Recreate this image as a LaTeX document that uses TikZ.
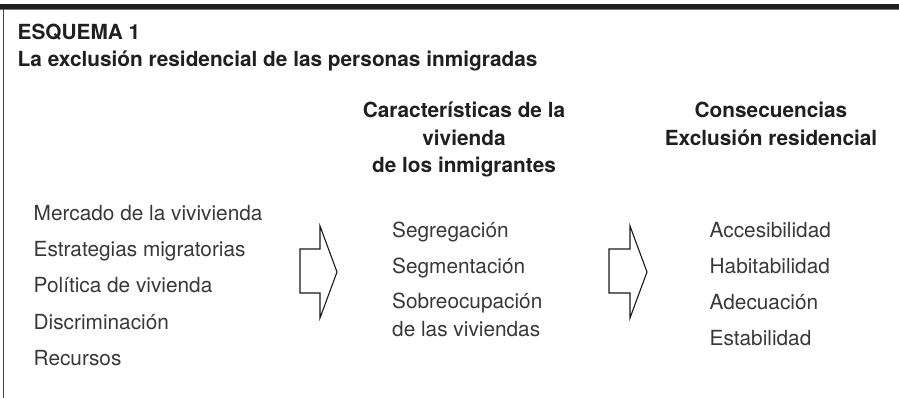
\documentclass[tikz,border=0pt]{standalone}
\usepackage{fontspec}
\setmainfont{TeX Gyre Heros}
\begin{document}
\begin{tikzpicture}[x=1pt,y=-1pt,
  ttl/.style={anchor=base west,inner sep=0pt,font=\fontsize{20.8}{24}\selectfont\bfseries,text=black!88},
  hdr/.style={anchor=base,inner sep=0pt,font=\fontsize{20.8}{24}\selectfont\bfseries,text=black!88},
  item/.style={anchor=base west,inner sep=0pt,font=\fontsize{20.8}{24}\selectfont,text=black!78},
  bigarrow/.style={draw=black!90,line width=1.1pt,line join=miter}]
\useasboundingbox (0,0) rectangle (899,398);
% frame
\fill[black!88] (0,4) rectangle (899,9.5);
\draw[black!55,line width=0.6pt] (0,9.8) -- (899,9.8);
\draw[black!75,line width=1.2pt] (3.5,9) -- (3.5,398);
% titles
\node[ttl] (t1) at (17.5,39.3) {ESQUEMA 1};
\node[ttl] (t2) at (17.5,67) {La exclusión residencial de las personas inmigradas};
% headers
\node[hdr] (h1a) at (464,118) {Características de la};
\node[hdr] (h1b) at (464,146) {vivienda};
\node[hdr] (h1c) at (464,173) {de los inmigrantes};
\node[hdr] (h2a) at (771,118) {Consecuencias};
\node[hdr] (h2b) at (771,146) {Exclusión residencial};
% left list
\node[item] (l1) at (33.5,220) {Mercado de la vivivienda};
\node[item] (l2) at (33.5,256) {Estrategias migratorias};
\node[item] (l3) at (33.5,292) {Política de vivienda};
\node[item] (l4) at (33.5,329) {Discriminación};
\node[item] (l5) at (33.5,365) {Recursos};
% middle list
\node[item] (m1) at (392,237) {Segregación};
\node[item] (m2) at (392,273.5) {Segmentación};
\node[item] (m3) at (392,308.5) {Sobreocupación};
\node[item] (m4) at (392,336) {de las viviendas};
% right list
\node[item] (r1) at (709.5,237) {Accesibilidad};
\node[item] (r2) at (709.5,273.5) {Habitabilidad};
\node[item] (r3) at (709.5,309) {Adecuación};
\node[item] (r4) at (709.5,345) {Estabilidad};
% arrows
\draw[bigarrow] (300,249) -- (320,249) -- (320,226) -- (337,272) -- (320,318) -- (320,293) -- (300,293) -- cycle;
\draw[bigarrow] (609,249) -- (630,249) -- (630,226) -- (647,272) -- (630,318) -- (630,293) -- (609,293) -- cycle;
\end{tikzpicture}
\end{document}
